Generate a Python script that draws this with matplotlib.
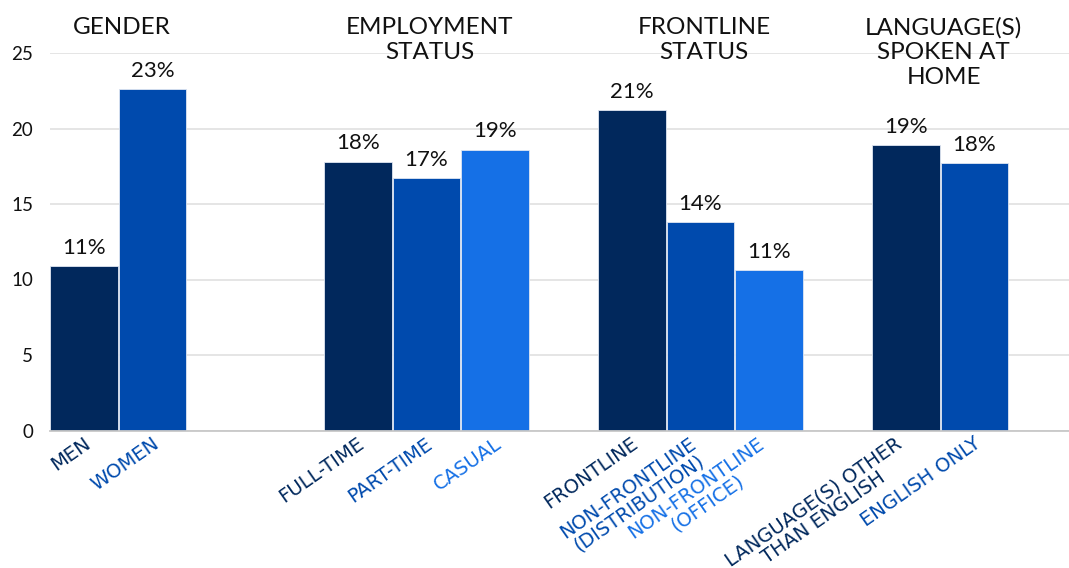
import numpy as np
import matplotlib
matplotlib.use("Agg")
import matplotlib.pyplot as plt
import matplotlib.transforms as mtransforms

# survey results by group (percent)
group_titles = ["GENDER", "EMPLOYMENT\nSTATUS", "FRONTLINE\nSTATUS", "LANGUAGE(S)\nSPOKEN AT\nHOME"]

gender_labels = ["MEN", "WOMEN"]
gender_values = [10.9, 22.6]

employment_labels = ["FULL-TIME", "PART-TIME", "CASUAL"]
employment_values = [17.8, 16.7, 18.6]

frontline_labels = ["FRONTLINE", "NON-FRONTLINE\n(DISTRIBUTION)", "NON-FRONTLINE\n(OFFICE)"]
frontline_values = [21.2, 13.8, 10.6]

language_labels = ["LANGUAGE(S) OTHER\nTHAN ENGLISH", "ENGLISH ONLY"]
language_values = [18.9, 17.7]

yticks = [0, 5, 10, 15, 20, 25]

shades = ["#01285c", "#004aad", "#1570e6"]

groups = [(gender_labels, gender_values),
          (employment_labels, employment_values),
          (frontline_labels, frontline_values),
          (language_labels, language_values)]

fig = plt.figure(figsize=(10.69, 5.68), dpi=100)
ax = fig.add_axes([49.75/1069, 137.5/568, 1 - 49.75/1069, 377.5/568])

head_tf = mtransforms.blended_transform_factory(ax.transData, fig.transFigure)

for g, (labels, values) in enumerate(groups):
    xs = [4*g + i for i in range(len(values))]
    cols = shades[:len(values)]
    bars = ax.bar(xs, values, width=0.985, color=cols, edgecolor="#dfe6f2",
                  linewidth=0.6, zorder=3)
    for b, v in zip(bars, values):
        ax.annotate(f"{v:.0f}%", (b.get_x() + b.get_width()/2, v),
                    xytext=(0, 6), textcoords="offset points",
                    ha="center", va="bottom", fontsize=16, color="#111111",
                    family="Lato")
    # rotated category names under each bar, coloured like the bar
    for x, lab, c in zip(xs, labels, cols):
        ax.annotate(lab, (x, 0), xytext=(7, -2.5), textcoords="offset points",
                    rotation=35, ha="right", va="top", multialignment="center",
                    fontsize=14, family="DejaVu Sans", color=c, linespacing=0.98,
                    annotation_clip=False)
    # group heading above the plot
    ax.text(np.mean(xs) + 0.05, 1 - 17/568, group_titles[g], transform=head_tf,
            ha="center", va="top", fontsize=17.5, family="Lato", color="#111111",
            linespacing=1.22, clip_on=False)

ax.set_xlim(-0.5, 14.38)
ax.set_ylim(0, 25)
ax.set_yticks(yticks)
ax.set_xticks([])

ax.tick_params(axis="both", length=0)
ax.tick_params(axis="y", pad=12, labelsize=13.5, labelcolor="#111111")
for t in ax.get_yticklabels():
    t.set_family("Lato")

ax.grid(axis="y", color="#e3e3e3", linewidth=1.3, zorder=0)
ax.set_axisbelow(True)
for s in ["top", "right", "left"]:
    ax.spines[s].set_visible(False)
ax.spines["bottom"].set_color("#c8c8c8")
ax.spines["bottom"].set_linewidth(1.3)
ax.spines["bottom"].set_zorder(4)

fig.savefig("out.png", dpi=100)
